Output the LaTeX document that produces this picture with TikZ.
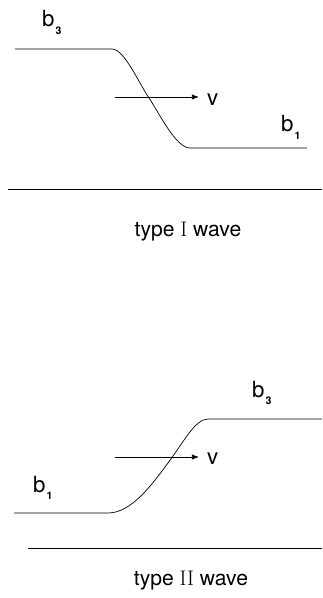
\documentclass[tikz,border=0pt]{standalone}
\usepackage{fontspec}
\setsansfont{TeX Gyre Heros}
\usetikzlibrary{arrows.meta}
\newcommand{\bsub}[1]{b\kern0.8pt\raisebox{-6pt}{\fontsize{9}{9}\selectfont\bfseries #1}}

\begin{document}
\begin{tikzpicture}[x=0.03cm, y=-0.03cm,
    profile/.style={line width=0.6pt},
    ground/.style={line width=0.8pt},
    arrow/.style={line width=0.6pt, -{Latex[length=6pt,width=4.5pt]}},
    lbl/.style={font=\sffamily\fontsize{19}{22}\selectfont, inner sep=0pt, anchor=base west},
    caption/.style={font=\sffamily\fontsize{18}{22}\selectfont, inner sep=0pt, anchor=base}
]
    \useasboundingbox (0,0) rectangle (322,598);

    % --- Type I wave ---
    \draw[profile] (15,49) -- (112,49)
        .. controls (124,49) and (138,81.5) .. (149,98)
        .. controls (160,114.5) and (176,148) .. (190,148) -- (307,148);
    \draw[ground] (8,189) -- (322,189);

    \coordinate (vIa) at (115,97);
    \coordinate (vIb) at (199,97);
    \draw[arrow] (vIa) -- (vIb);

    \node[lbl] (b3I) at (42,27) {\bsub{3}};
    \node[lbl] (vI) at (207,106) {v};
    \node[lbl] (b1I) at (281,132) {\bsub{1}};
    \node[caption] (capI) at (188,237) {type \textrm{I} wave};

    % --- Type II wave ---
    \draw[profile] (14,513) -- (108,513)
        .. controls (132,513) and (153,483) .. (168,463)
        .. controls (183,443) and (195,419) .. (208,419) -- (322,419);
    \draw[ground] (28,548) -- (322,548);

    \coordinate (vIIa) at (115,457);
    \coordinate (vIIb) at (199,457);
    \draw[arrow] (vIIa) -- (vIIb);

    \node[lbl] (b3II) at (252,397) {\bsub{3}};
    \node[lbl] (vII) at (207,464) {v};
    \node[lbl] (b1II) at (33,492) {\bsub{1}};
    \node[caption] (capII) at (191,585) {type \textrm{II} wave};

\end{tikzpicture}
\end{document}
